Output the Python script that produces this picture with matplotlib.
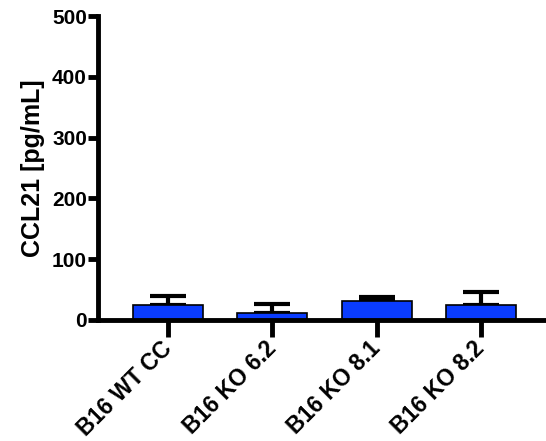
import matplotlib
matplotlib.use("Agg")
import matplotlib.pyplot as plt
import numpy as np

plt.rcParams['font.family'] = ['Liberation Sans', 'DejaVu Sans']
plt.rcParams['font.weight'] = 'bold'

categories = ["B16 WT CC", "B16 KO 6.2", "B16 KO 8.1", "B16 KO 8.2"]
means = [24, 12, 32, 25]
errors = [15, 14, 6, 21]
y_ticks = [0, 100, 200, 300, 400, 500]

fig = plt.figure(figsize=(5.46, 4.41), dpi=100)
ax = fig.add_axes([0.1795, 0.2744, 0.8205, 0.6893])

x = np.arange(len(categories))
ax.bar(x, means, width=0.67, color="#0A3CFF", edgecolor="black", linewidth=1.2, zorder=2)
ax.errorbar(x, means, yerr=[np.zeros(len(errors)), errors], fmt="none",
            ecolor="black", elinewidth=3, capsize=13.3, capthick=3, zorder=1)

ax.set_xlim(-0.67, 3.62)
ax.set_ylim(0, 500)
ax.set_yticks(y_ticks)
ax.set_xticks(x)
ax.set_xticklabels(categories, rotation=45, ha="right", va="center",
                   rotation_mode="anchor", fontsize=16.5, fontweight="bold")
ax.set_yticklabels([str(t) for t in y_ticks], fontsize=15, fontweight="bold")
ax.set_ylabel("CCL21 [pg/mL]", fontsize=18, fontweight="bold", labelpad=5)

for side in ["top", "right"]:
    ax.spines[side].set_visible(False)
for side in ["left", "bottom"]:
    ax.spines[side].set_linewidth(3.5)
ax.tick_params(axis="y", length=7, width=3.5, pad=1)
ax.tick_params(axis="x", length=12, width=3.5, pad=6)

fig.savefig("out.png", dpi=100)
